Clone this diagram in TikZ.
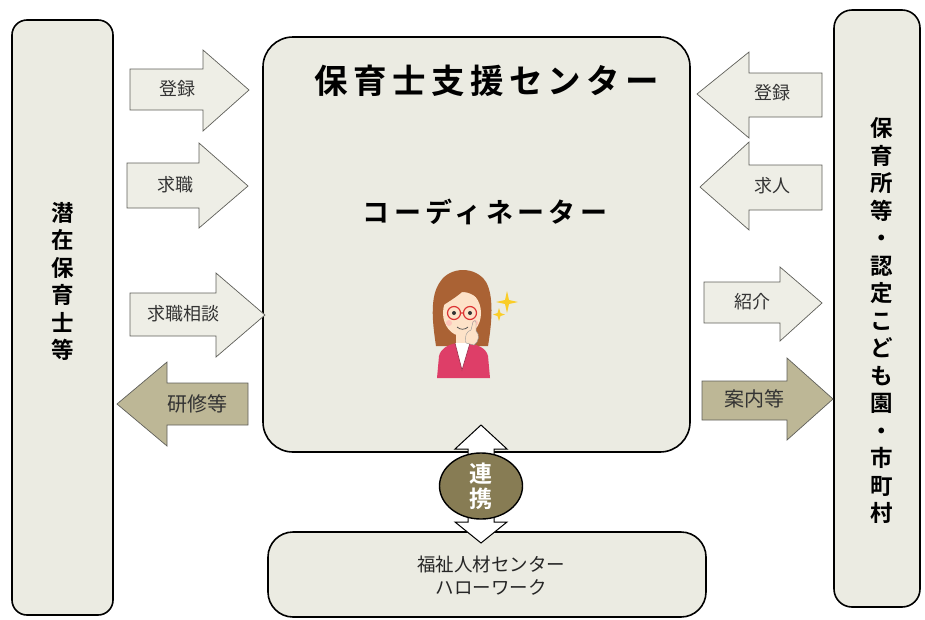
\documentclass[tikz,border=0pt]{standalone}
\usepackage{fontspec}
\setmainfont{Noto Sans CJK JP}[BoldFont={Noto Sans CJK JP Bold}]
\newfontfamily\titlefont{Noto Sans CJK JP Bold}[LetterSpace=16]
\usetikzlibrary{calc,shapes.geometric}

\definecolor{boxfill}{RGB}{235,235,226}
\definecolor{lightarrow}{RGB}{238,238,230}
\definecolor{darkarrow}{RGB}{189,183,150}
\definecolor{olive}{RGB}{135,124,84}
\definecolor{arrowline}{RGB}{95,95,90}
\definecolor{hair}{RGB}{170,98,52}
\definecolor{skin}{RGB}{253,226,200}
\definecolor{jacket}{RGB}{222,62,104}
\definecolor{glassred}{RGB}{220,50,50}
\definecolor{sparkle}{RGB}{250,205,40}

\tikzset{
  panel/.style={draw=black, line width=1.6pt, fill=boxfill, inner sep=0pt},
  blockarrow/.style={draw=arrowline, line width=0.7pt, line join=miter, fill=lightarrow},
  darkblock/.style={blockarrow, fill=darkarrow},
  arrowtext/.style={font=\fontsize{18}{20}\selectfont, text=black!80},
  darktext/.style={font=\fontsize{20}{22}\selectfont, text=black!80},
  columntext/.style={font=\fontsize{22.5}{27.5}\selectfont\bfseries, align=center, inner sep=0pt},
}

\begin{document}
\begin{tikzpicture}[x=1pt, y=-1pt]
\useasboundingbox (0,0) rectangle (925,619);

% ---- panels ----
\node[panel, rounded corners=15pt, minimum width=101pt, minimum height=595pt] (pool) at (62.5,317.5) {};
\node[panel, rounded corners=30pt, minimum width=427pt, minimum height=415pt] (center) at (476.5,244.5) {};
\node[panel, rounded corners=18pt, minimum width=86pt, minimum height=597pt] (nursery) at (877,308.5) {};
\node[panel, rounded corners=25pt, minimum width=438pt, minimum height=85pt] (hw) at (487,574.5) {};

% ---- panel texts ----
\node[columntext] (pooltxt) at (62.5,281.5) {潜\\在\\保\\育\\士\\等};
\node[columntext] (nurserytxt) at (882,320.5)
  {保\\育\\所\\等\\・\\認\\定\\こ\\ど\\も\\園\\・\\市\\町\\村};
\node[font=\titlefont\fontsize{33.5}{36}\selectfont] (title) at (487,81) {保育士支援センター};
\node[font=\titlefont\fontsize{27}{30}\selectfont] (coord) at (485,212) {コーディネーター};
\node[font=\fontsize{18.5}{23}\selectfont, align=center, inner sep=0pt, text=black!85] (hwtxt) at (491,576)
  {福祉人材センター\\ハローワーク};

% ---- block arrows, left side ----
\draw[blockarrow] (130,69) -- (203,69) -- (203,50) -- (249,90) -- (203,131) -- (203,110) -- (130,110) -- cycle;
\node[arrowtext] (regL) at (177,89) {登録};
\draw[blockarrow] (127,163) -- (199,163) -- (199,143) -- (248,186) -- (199,228) -- (199,208) -- (127,208) -- cycle;
\node[arrowtext] (jobL) at (175,185) {求職};
\draw[blockarrow] (130,293) -- (216,293) -- (216,273) -- (265,315) -- (216,357) -- (216,336) -- (130,336) -- cycle;
\node[arrowtext] (consultL) at (183,314) {求職相談};
\draw[darkblock] (248,383) -- (167,383) -- (167,362) -- (117,404) -- (167,446) -- (167,425) -- (248,425) -- cycle;
\node[darktext] (trainL) at (197,404) {研修等};

% ---- block arrows, right side ----
\draw[blockarrow] (822,73) -- (749,73) -- (749,52) -- (697,94) -- (749,138) -- (749,117) -- (822,117) -- cycle;
\node[arrowtext] (regR) at (772,93) {登録};
\draw[blockarrow] (822,165) -- (749,165) -- (749,142) -- (700,187) -- (749,230) -- (749,210) -- (822,210) -- cycle;
\node[arrowtext] (offerR) at (772,186) {求人};
\draw[blockarrow] (704,282) -- (780,282) -- (780,267) -- (822,303) -- (780,341) -- (780,323) -- (704,323) -- cycle;
\node[arrowtext] (introR) at (752,302) {紹介};
\draw[darkblock] (702,381) -- (787,381) -- (787,358) -- (833,399) -- (787,440) -- (787,420) -- (702,420) -- cycle;
\node[darktext] (guideR) at (754,399) {案内等};

% ---- two-way link between the centre and the bottom panel ----
\draw[blockarrow, fill=white, draw=black, line width=1pt]
  (481,425) -- (507,449) -- (494,449) -- (494,522) -- (507,522) -- (481,543)
  -- (455,522) -- (468,522) -- (468,449) -- (455,449) -- cycle;
\node[draw=black, line width=1.4pt, fill=olive, ellipse, minimum width=83pt, minimum height=64pt,
      inner sep=0pt, font=\fontsize{23}{25}\selectfont\bfseries, text=white, align=center]
  (link) at (481,486) {連\\携};

% ---- coordinator figure ----
\begin{scope}
  % hair behind the face
  \fill[hair] (436,346) .. controls (432,320) and (430,296) .. (440,282)
     .. controls (450,266) and (476,266) .. (486,282)
     .. controls (494,296) and (492,322) .. (488,346) -- cycle;
  % neck
  \fill[skin] (456,332) rectangle (469,350);
  % jacket
  \fill[jacket] (437,378) -- (439,356) .. controls (441,348) and (448,345) .. (456,343)
     -- (469,343) .. controls (478,345) and (486,348) .. (488,356) -- (490,378) -- cycle;
  % shirt
  \fill[white] (455,343) -- (462,370) -- (470,343) -- cycle;
  \draw[jacket!70!black, line width=0.6pt] (455,343) -- (462,370) -- (470,343);
  % face
  \fill[skin] (462,313) ellipse (19pt and 23pt);
  % fringe
  \fill[hair] (442,306) .. controls (440,286) and (452,278) .. (463,279)
     .. controls (476,279) and (486,288) .. (483,306)
     .. controls (478,296) and (470,292) .. (462,292)
     .. controls (455,298) and (448,302) .. (442,306) -- cycle;
  % eyes
  \fill[black!80] (454,313) circle (2pt);
  \fill[black!80] (470,313) circle (2pt);
  % glasses
  \draw[glassred, line width=1.2pt] (454,313) circle (6.5pt) (470,313) circle (6.5pt)
     (460.5,313) -- (463.5,313);
  % cheeks and smile
  \fill[red!30, opacity=0.6] (449,323) circle (3pt) (475,323) circle (3pt);
  \draw[black!70, line width=0.7pt] (457,327) .. controls (460,330) and (465,330) .. (468,327);
  % hand at the chin
  \fill[skin, draw=black!40, line width=0.4pt] (466,343) .. controls (464,336) and (467,331) .. (471,330)
     -- (473,322) .. controls (474,320) and (476,320) .. (476,323) -- (476,331)
     .. controls (480,334) and (479,342) .. (474,345) -- cycle;
  % sparkles
  \fill[sparkle] (507,291) -- (509,300) -- (518,302) -- (509,304) -- (507,313) -- (505,304) -- (496,302) -- (505,300) -- cycle;
  \fill[sparkle] (499,308) -- (500.5,313) -- (505,314.5) -- (500.5,316) -- (499,321) -- (497.5,316) -- (493,314.5) -- (497.5,313) -- cycle;
\end{scope}
\end{tikzpicture}
\end{document}
